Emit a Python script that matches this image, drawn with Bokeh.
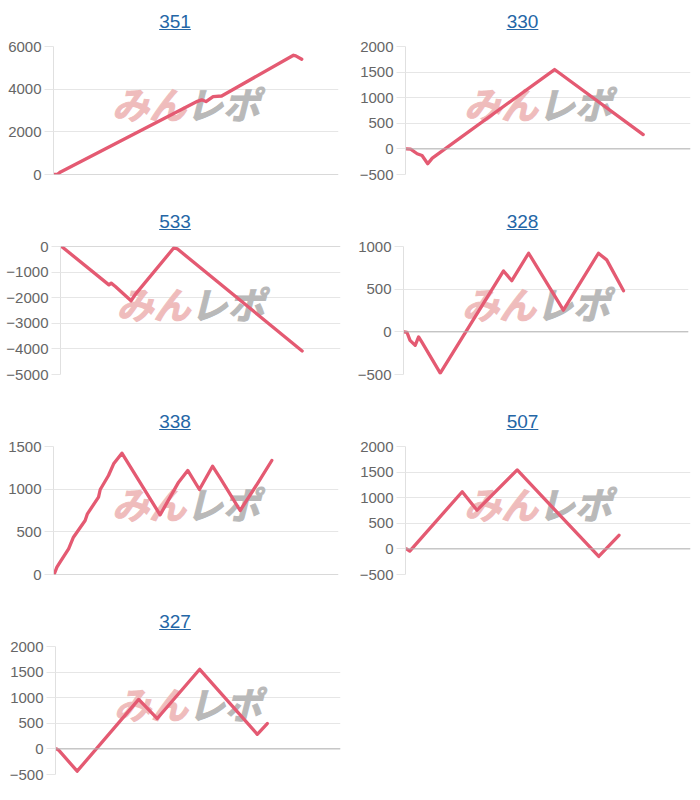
from bokeh.plotting import figure
from bokeh.layouts import column, row
from bokeh.models import Div, Range1d, FixedTicker, Span, ColumnDataSource
from bokeh.embed import file_html
from bokeh.resources import INLINE
from bokeh.core.properties import value

# ---------------- data ----------------
titles = ["351", "330", "533", "328", "338", "507", "327"]

# x: position along the game axis (0-100 = full axis), y: coin difference
x_351 = [0, 1.5, 2.5, 50.5, 52, 53.5, 56, 59, 84.2, 85, 87.1]
y_351 = [0, 20, 120, 3430, 3500, 3420, 3650, 3680, 5590, 5560, 5400]

x_330 = [0.4, 1.8, 4.1, 5.8, 7.8, 9.4, 52.3, 83.4]
y_330 = [0, -5, -95, -130, -290, -180, 1550, 280]

x_533 = [0.4, 17.3, 18.1, 19.6, 25.2, 26.8, 40.5, 41.7, 86.3]
y_533 = [0, -1500, -1430, -1560, -2120, -1860, -50, -90, -4080]

x_328 = [0.2, 1.2, 2.3, 4.1, 5.3, 6.4, 12.9, 35.1, 38.0, 43.9, 56.1, 68.4, 71.3, 77.2]
y_328 = [0, -5, -100, -158, -60, -119, -484, 713, 599, 921, 254, 921, 843, 482]

x_338 = [0.2, 1.2, 2.3, 5.3, 7.0, 11.1, 11.9, 15.8, 16.4, 19.3, 21.1, 24.0,
         37.4, 43.9, 47.1, 51.2, 55.8, 58.5, 65.5, 71.9, 76.6]
y_338 = [0, 86, 145, 301, 437, 633, 711, 906, 996, 1160, 1297, 1422,
         699, 1082, 1219, 996, 1269, 1129, 750, 1082, 1336]

x_507 = [0.35, 1.5, 19.9, 25.1, 39.2, 67.8, 74.9]
y_507 = [0, -42, 1116, 756, 1542, -147, 266]

x_327 = [0.35, 1.2, 7.6, 29.2, 35.7, 50.6, 70.8, 74.3]
y_327 = [0, -30, -435, 966, 593, 1555, 285, 495]

ticks_351 = [0, 2000, 4000, 6000]
ticks_330 = [-500, 0, 500, 1000, 1500, 2000]
ticks_533 = [-5000, -4000, -3000, -2000, -1000, 0]
ticks_328 = [-500, 0, 500, 1000]
ticks_338 = [0, 500, 1000, 1500]
ticks_507 = [-500, 0, 500, 1000, 1500, 2000]
ticks_327 = [-500, 0, 500, 1000, 1500, 2000]

series = [
    (x_351, y_351, ticks_351),
    (x_330, y_330, ticks_330),
    (x_533, y_533, ticks_533),
    (x_328, y_328, ticks_328),
    (x_338, y_338, ticks_338),
    (x_507, y_507, ticks_507),
    (x_327, y_327, ticks_327),
]

# ---------------- layout / style ----------------
PANEL_W = [350, 345, 350, 345, 350, 345, 350]
FRAME_H = 128
left_borders = [53, 55, 60, 53, 53, 55, 55]
frame_widths = [285, 285, 280, 285, 285, 285, 285]

LINE_COLOR = "#e45a72"
FONT = "Liberation Sans"


def make_panel(i, last=False):
    xs, ys, ticks = series[i]
    lb = left_borders[i]
    fw = frame_widths[i]
    pw = PANEL_W[i]
    ymin, ymax = min(ticks), max(ticks)
    p = figure(frame_width=fw, frame_height=FRAME_H,
               min_border_left=lb, min_border_right=pw - lb - fw,
               min_border_top=10, min_border_bottom=10 if last else 26,
               x_range=Range1d(0, 100), y_range=Range1d(ymin, ymax),
               output_backend="svg", toolbar_location=None, tools="")
    p.outline_line_color = None
    p.xaxis.visible = False
    p.xgrid.visible = False
    p.ygrid.grid_line_color = "#e6e6e6"
    p.ygrid.grid_line_width = 1
    p.yaxis.ticker = FixedTicker(ticks=ticks)
    p.yaxis.axis_line_color = "#e0e0e0"
    p.yaxis.major_tick_line_color = "#e6e6e6"
    p.yaxis.major_tick_out = 9
    p.yaxis.major_tick_in = 0
    p.yaxis.minor_tick_line_color = None
    p.yaxis.major_label_standoff = 3
    p.yaxis.major_label_text_font = FONT
    p.yaxis.major_label_text_font_size = "15px"
    p.yaxis.major_label_text_color = "#666666"
    p.add_layout(Span(location=0, dimension="width", line_color="#b3b3b3", line_width=1))

    # watermark
    wy = ymax - 0.445 * (ymax - ymin)
    p.text(x=[47.5], y=[wy], text=["みん"], text_font=value("Noto Sans CJK JP"),
           text_font_style="bold italic", text_font_size="37px", text_color="#efbcbc",
           text_outline_color="#efbcbc",
           text_align="right", text_baseline="middle", x_offset=-3)
    p.text(x=[47.5], y=[wy], text=["レポ"], text_font=value("Noto Sans CJK JP"),
           text_font_style="bold italic", text_font_size="37px", text_color="#b9b9b9",
           text_outline_color="#b9b9b9",
           text_align="left", text_baseline="middle", x_offset=-3)

    src = ColumnDataSource(dict(x=xs, y=ys))
    p.line("x", "y", source=src, line_color=LINE_COLOR, line_width=3.3,
           line_join="round", line_cap="round")

    title = Div(text='<span style="text-decoration:underline;position:relative;top:4px">%s</span>' % titles[i],
                width=pw, height=36, margin=0,
                styles={"text-align": "center", "font-size": "19px", "color": "#2466a6",
                        "font-family": "'Liberation Sans', Arial, sans-serif",
                        "line-height": "36px", "width": "%dpx" % pw})
    return column(title, p, spacing=0)


rows = [
    row(make_panel(0), make_panel(1), spacing=0),
    row(make_panel(2), make_panel(3), spacing=0),
    row(make_panel(4), make_panel(5), spacing=0),
    row(make_panel(6, last=True), spacing=0),
]
layout = column(*rows, spacing=0)

open("out.html", "w").write(file_html(layout, INLINE))
